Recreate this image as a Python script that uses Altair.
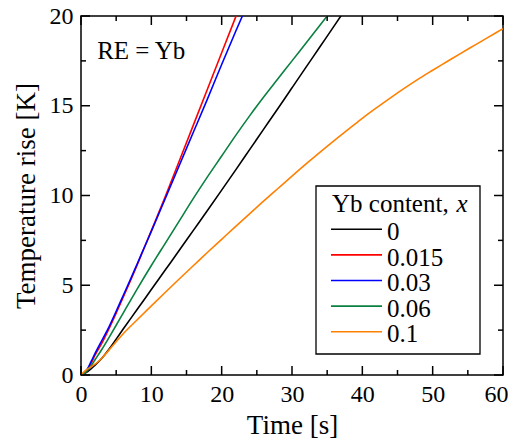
import altair as alt
import pandas as pd

# ---------------- data ----------------
series = ["0", "0.015", "0.03", "0.06", "0.1"]
colors = ["#000000", "#ff0000", "#0000ff", "#0a8040", "#ff8000"]

t_x0 = [0, 1, 2, 3, 4, 5, 6, 8, 10, 12, 14, 16, 18, 20, 22, 24, 26, 28, 30, 32, 34, 36, 37]
T_x0 = [0, 0.2, 0.55, 0.95, 1.45, 2.0, 2.56, 3.66, 4.76, 5.86, 6.96, 8.07, 9.18,
        10.3, 11.43, 12.57, 13.71, 14.85, 16.0, 17.15, 18.3, 19.45, 20.03]

t_x015 = [0, 0.5, 1, 1.5, 2, 3, 4, 5, 6, 7, 8, 9, 10, 12, 14, 16, 18, 20, 22, 22.1]
T_x015 = [0, 0.1, 0.35, 0.7, 1.1, 1.8, 2.6, 3.45, 4.33, 5.23, 6.15, 7.1, 8.05,
          9.95, 11.95, 13.95, 15.95, 17.95, 19.95, 20.05]

t_x03 = [0, 0.5, 1, 1.5, 2, 3, 4, 5, 6, 7, 8, 9, 10, 12, 14, 16, 18, 20, 22, 23]
T_x03 = [0, 0.15, 0.4, 0.8, 1.2, 1.95, 2.7, 3.55, 4.43, 5.3, 6.2, 7.1, 8.0,
         9.85, 11.7, 13.55, 15.4, 17.3, 19.15, 20.05]

t_x06 = [0, 0.5, 1, 1.5, 2, 3, 4, 5, 6, 8, 10, 12, 14, 16, 18, 20, 22, 24, 26,
         28, 30, 32, 34, 35]
T_x06 = [0, 0.1, 0.3, 0.55, 0.85, 1.45, 2.1, 2.77, 3.45, 4.8, 6.1, 7.35, 8.6,
         9.85, 11.05, 12.2, 13.35, 14.45, 15.5, 16.5, 17.5, 18.5, 19.5, 20.0]

t_x10 = [0, 0.5, 1, 2, 3, 4, 5, 6, 8, 10, 12, 14, 16, 18, 20, 22, 24, 26, 28, 30,
         32, 34, 36, 38, 40, 42, 44, 46, 48, 50, 52, 54, 56, 58, 60]
T_x10 = [0, 0.2, 0.35, 0.6, 0.95, 1.4, 1.85, 2.3, 3.08, 3.85, 4.61, 5.36, 6.1,
         6.84, 7.56, 8.28, 8.99, 9.7, 10.39, 11.08, 11.76, 12.42, 13.06, 13.68,
         14.3, 14.88, 15.44, 15.98, 16.5, 16.98, 17.45, 17.92, 18.38, 18.84, 19.3]

x_major = [0, 10, 20, 30, 40, 50, 60]
x_minor = [5, 15, 25, 35, 45, 55]
y_major = [0, 5, 10, 15, 20]
y_minor = [2.5, 7.5, 12.5, 17.5]

rows = []
for name, ts, Ts in zip(series, [t_x0, t_x015, t_x03, t_x06, t_x10],
                        [T_x0, T_x015, T_x03, T_x06, T_x10]):
    for a, b in zip(ts, Ts):
        rows.append({"series": name, "t": a, "T": b})
df = pd.DataFrame(rows)

# ---------------- layout / style ----------------
W, H = 422, 359
FONT = "Liberation Serif"
MAJ, MIN = 9, 5

xscale = alt.Scale(domain=[0, 60], nice=False, zero=False)
yscale = alt.Scale(domain=[0, 20], nice=False, zero=False)

common_axis = dict(ticks=False, domain=False, grid=False, labelFont=FONT,
                   labelFontSize=24, labelColor="black", labelFlush=False,
                   labelOverlap=False, titleFont=FONT, titleFontSize=27,
                   titleFontWeight="normal", titleColor="black")
last_x = "datum.value == 60"
xaxis = alt.Axis(values=x_major, labelPadding=7, title="Time [s]",
                 titlePadding=6,
                 labelAlign={"condition": {"test": last_x, "value": "right"},
                             "value": "center"},
                 labelOffset={"condition": {"test": last_x, "value": 5},
                              "value": 0},
                 **common_axis)
yaxis = alt.Axis(values=y_major, labelPadding=8, title="Temperature rise [K]",
                 titlePadding=9, **common_axis)


def X(field):
    return alt.X(field, scale=xscale, axis=xaxis)


def Y(field):
    return alt.Y(field, scale=yscale, axis=yaxis)


lines = alt.Chart(df).mark_line(strokeWidth=1.6, clip=True,
                                interpolate="monotone").encode(
    x=X("t:Q"),
    y=Y("T:Q"),
    color=alt.Color("series:N", scale=alt.Scale(domain=series, range=colors),
                    legend=None),
    order=alt.Order("t:Q"),
)


def xticks(vals, length, top):
    d = pd.DataFrame({"v": vals})
    y0 = 0 if top else H
    y1 = length if top else H - length
    return alt.Chart(d).mark_rule(color="black", strokeWidth=1.5).encode(
        x=X("v:Q"), y=alt.value(y0), y2=alt.value(y1))


def yticks(vals, length, right):
    d = pd.DataFrame({"v": vals})
    x0 = W if right else 0
    x1 = W - length if right else length
    return alt.Chart(d).mark_rule(color="black", strokeWidth=1.5).encode(
        y=Y("v:Q"), x=alt.value(x0), x2=alt.value(x1))


ticks = [
    xticks(x_major, MAJ, False), xticks(x_minor, MIN, False),
    xticks(x_major, MAJ, True), xticks(x_minor, MIN, True),
    yticks(y_major, MAJ, False), yticks(y_minor, MIN, False),
    yticks(y_major, MAJ, True), yticks(y_minor, MIN, True),
]

ann = pd.DataFrame({"t": [2.3], "T": [17.62], "label": ["RE = Yb"]})
ann_text = alt.Chart(ann).mark_text(align="left", baseline="alphabetic",
                                    font=FONT, fontSize=25, color="black").encode(
    x=X("t:Q"), y=Y("T:Q"), text="label:N")

# ---------------- custom legend ----------------
one = pd.DataFrame({"a": [0]})
legend_layers = [
    alt.Chart(one).mark_rect(fill="white", stroke="black", strokeWidth=1.3).encode(
        x=alt.value(235), x2=alt.value(399), y=alt.value(170), y2=alt.value(338)),
    alt.Chart(one).mark_text(align="left", baseline="alphabetic", font=FONT,
                             fontSize=25, color="black", text="Yb content,").encode(
        x=alt.value(251), y=alt.value(196.3)),
    alt.Chart(one).mark_text(align="left", baseline="alphabetic", font=FONT,
                             fontSize=25, fontStyle="italic", color="black",
                             text="x").encode(
        x=alt.value(375.5), y=alt.value(196.3)),
]
row0, step = 213.3, 25.6
for i, (name, col) in enumerate(zip(series, colors)):
    ly = row0 + step * i
    legend_layers.append(
        alt.Chart(one).mark_rule(color=col, strokeWidth=1.6).encode(
            x=alt.value(250), x2=alt.value(301), y=alt.value(ly)))
    legend_layers.append(
        alt.Chart(one).mark_text(align="left", baseline="alphabetic", font=FONT,
                                 fontSize=25, color="black", text=name).encode(
            x=alt.value(306), y=alt.value(ly + 10.7)))

chart = alt.layer(lines, *ticks, ann_text, *legend_layers).properties(
    width=W, height=H,
    autosize=alt.AutoSizeParams(type="none"),
    padding={"left": 73, "top": 8, "right": 5, "bottom": 63},
    background="white",
).configure_view(stroke="black", strokeWidth=1.5)

chart.save("out.html", embed_options={"renderer": "svg", "actions": False})
